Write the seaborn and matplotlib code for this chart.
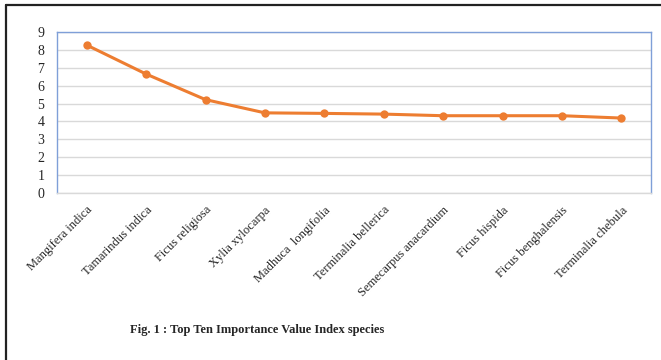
import numpy as np
import pandas as pd
import seaborn as sns
import matplotlib.pyplot as plt
from matplotlib.lines import Line2D

species = ["Mangifera indica", "Tamarindus indica", "Ficus religiosa", "Xylia xylocarpa",
           "Madhuca  longifolia", "Terminalia bellerica", "Semecarpus anacardium",
           "Ficus hispida", "Ficus benghalensis", "Terminalia chebula"]
ivi = [8.27, 6.65, 5.22, 4.48, 4.45, 4.41, 4.32, 4.32, 4.32, 4.19]
yticks = list(range(0, 10))

sns.set_style("white")
plt.rcParams['font.family'] = ['Liberation Serif', 'DejaVu Serif']

df = pd.DataFrame({"Species": species, "IVI": ivi})
df["x"] = np.arange(len(species))

fig = plt.figure(figsize=(6.61, 3.60), dpi=100)
ax = fig.add_axes([57/661, 1-193/360, 594/661, 161/360])

sns.lineplot(data=df, x="x", y="IVI", ax=ax, color="#ED7D31", linewidth=2.2,
             marker="o", markersize=6, markeredgewidth=0)

ax.set_xlim(-0.5, len(species) - 0.5)
ax.set_ylim(0, 9)
ax.set_yticks(yticks)
ax.set_yticklabels([str(t) for t in yticks], fontsize=10)
ax.set_xticks(df["x"])
ax.set_xticklabels(species, rotation=45, ha="right", rotation_mode="anchor", fontsize=9)
ax.tick_params(axis="y", length=0, pad=9)
ax.tick_params(axis="x", length=0, pad=8)
ax.set_xlabel("")
ax.set_ylabel("")
ax.yaxis.grid(True, color="#d9d9d9", linewidth=1)
ax.set_axisbelow(True)
for s in ["left", "top", "right"]:
    ax.spines[s].set_color("#7f9fd8")
    ax.spines[s].set_linewidth(1)
ax.spines["bottom"].set_color("#d9d9d9")
ax.spines["bottom"].set_linewidth(1)

# outer frame (left and top only)
fig.add_artist(Line2D([6/661, 6/661], [0, 1-5/360], color="#222222", linewidth=1.6,
                      transform=fig.transFigure))
fig.add_artist(Line2D([6/661, 1], [1-5/360, 1-5/360], color="#222222", linewidth=1.6,
                      transform=fig.transFigure))

fig.text(257/661, 1-330/360, "Fig. 1 : Top Ten Importance Value Index species",
         ha="center", va="center", fontsize=9, fontweight="bold")

plt.savefig("out.png", dpi=100)
